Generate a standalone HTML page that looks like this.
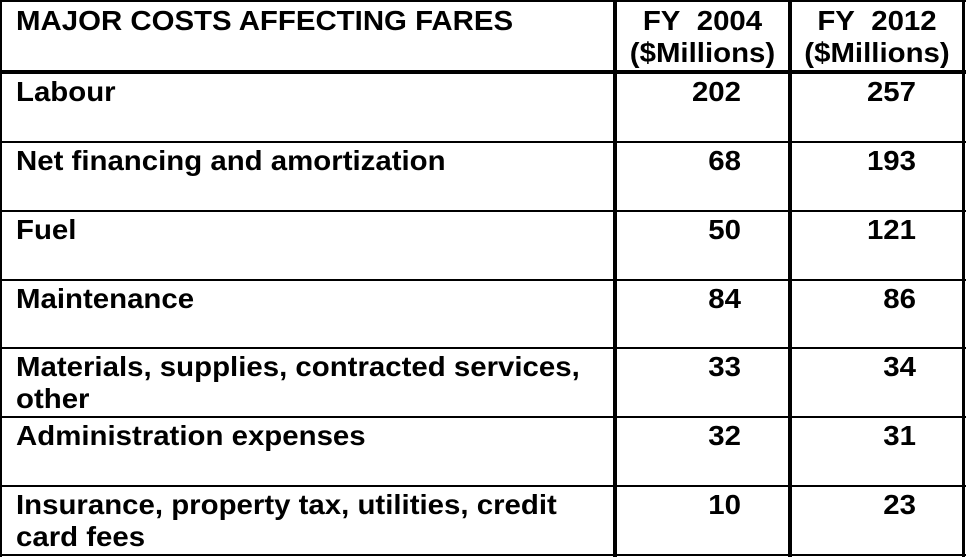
<!DOCTYPE html>
<html><head><style>
body{margin:0;width:966px;height:557px;background:#fff;overflow:hidden;position:relative;font-family:"Liberation Sans",Arial,sans-serif;font-weight:bold;font-size:28px;color:#000}
.l{position:absolute;background:#000}
.t{position:absolute;white-space:nowrap;line-height:32px;transform:scaleX(1.05);transform-origin:left top}
.r{text-align:right;transform-origin:right top}
.c{text-align:center;transform-origin:center top}
</style></head><body>
<div class="l" style="left:0;top:0;width:966px;height:2px"></div>
<div class="l" style="left:0;top:0;width:2px;height:557px"></div>
<div class="l" style="left:962px;top:0;width:3px;height:557px"></div>
<div class="l" style="left:0;top:554px;width:966px;height:2px"></div>
<div class="l" style="left:613px;top:0;width:4px;height:557px"></div>
<div class="l" style="left:788px;top:0;width:4px;height:557px"></div>
<div class="l" style="left:0;top:70px;width:966px;height:4px"></div>
<div class="l" style="left:0;top:141px;width:966px;height:2px"></div>
<div class="l" style="left:0;top:210px;width:966px;height:2px"></div>
<div class="l" style="left:0;top:279px;width:966px;height:2px"></div>
<div class="l" style="left:0;top:347px;width:966px;height:2px"></div>
<div class="l" style="left:0;top:416px;width:966px;height:2px"></div>
<div class="l" style="left:0;top:485px;width:966px;height:2px"></div>

<div class="t" style="left:16px;top:5px">MAJOR COSTS AFFECTING FARES</div>
<div class="t c" style="left:617px;width:171px;top:5px">FY&nbsp; 2004<br>($Millions)</div>
<div class="t c" style="left:792px;width:170px;top:5px">FY&nbsp; 2012<br>($Millions)</div>

<div class="t" style="left:16px;top:76px">Labour</div>
<div class="t" style="left:16px;top:145px">Net financing and amortization</div>
<div class="t" style="left:16px;top:214px">Fuel</div>
<div class="t" style="left:16px;top:283px">Maintenance</div>
<div class="t" style="left:16px;top:351px">Materials, supplies, contracted services,<br>other</div>
<div class="t" style="left:16px;top:420px">Administration expenses</div>
<div class="t" style="left:16px;top:489px">Insurance, property tax, utilities, credit<br>card fees</div>

<div class="t r" style="left:617px;width:124px;top:76px">202</div>
<div class="t r" style="left:617px;width:124px;top:145px">68</div>
<div class="t r" style="left:617px;width:124px;top:214px">50</div>
<div class="t r" style="left:617px;width:124px;top:283px">84</div>
<div class="t r" style="left:617px;width:124px;top:351px">33</div>
<div class="t r" style="left:617px;width:124px;top:420px">32</div>
<div class="t r" style="left:617px;width:124px;top:489px">10</div>

<div class="t r" style="left:792px;width:124px;top:76px">257</div>
<div class="t r" style="left:792px;width:124px;top:145px">193</div>
<div class="t r" style="left:792px;width:124px;top:214px">121</div>
<div class="t r" style="left:792px;width:124px;top:283px">86</div>
<div class="t r" style="left:792px;width:124px;top:351px">34</div>
<div class="t r" style="left:792px;width:124px;top:420px">31</div>
<div class="t r" style="left:792px;width:124px;top:489px">23</div>
</body></html>
